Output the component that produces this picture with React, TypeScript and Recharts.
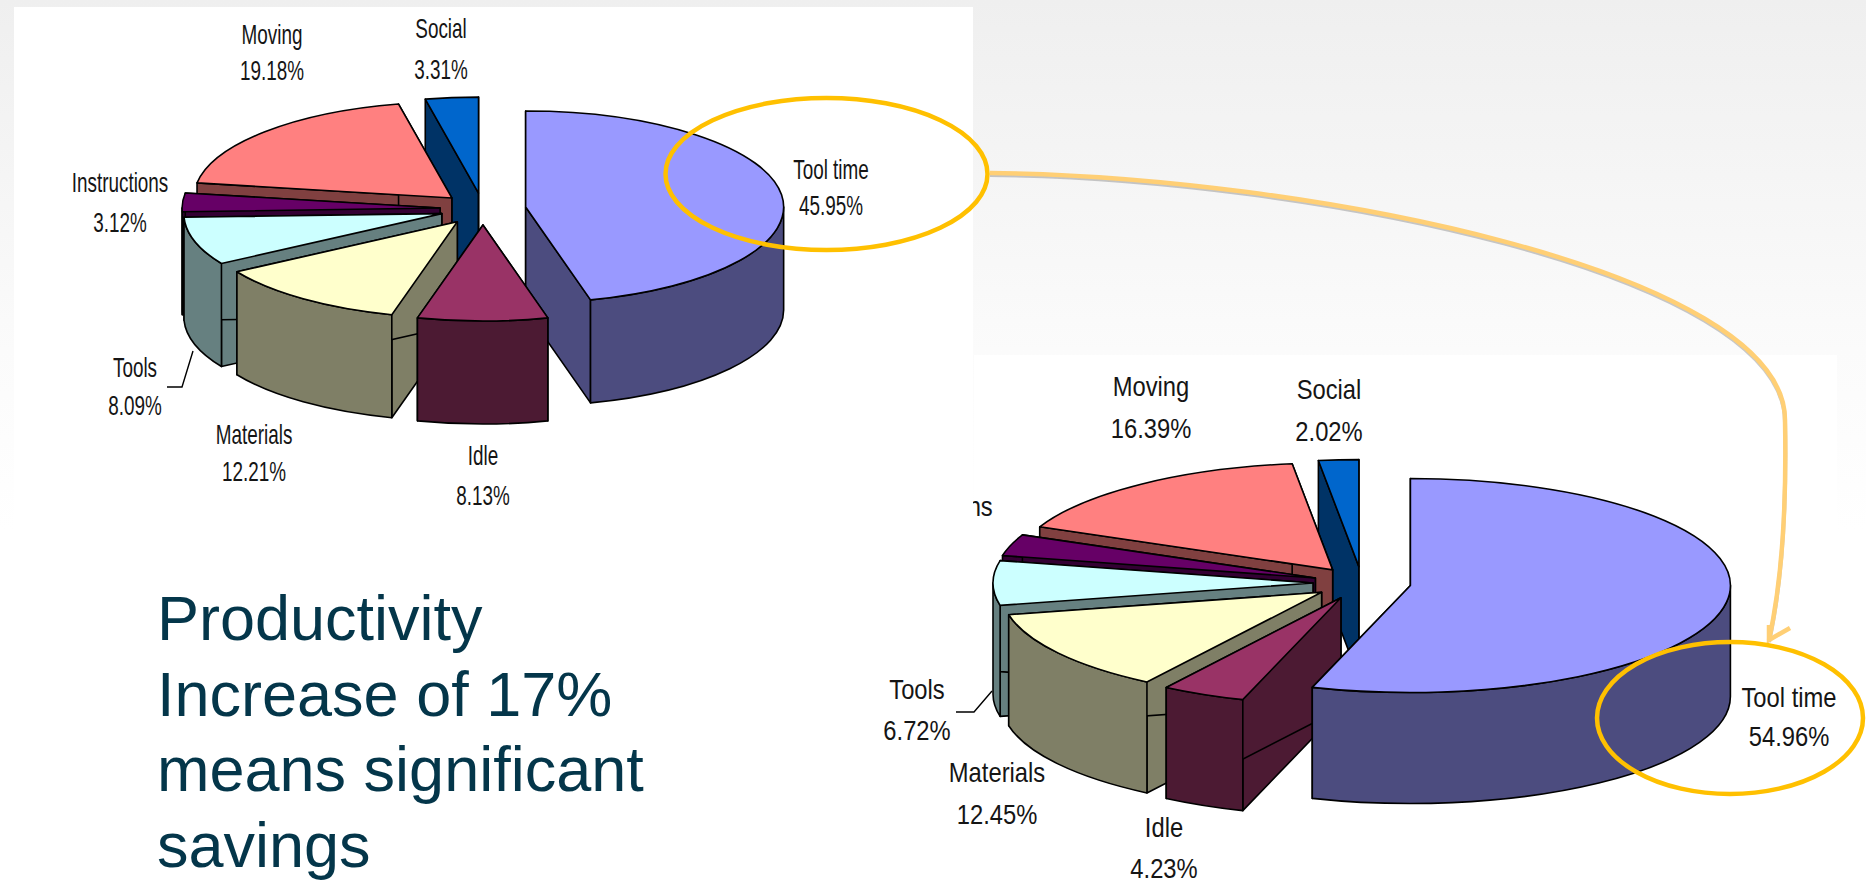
import { Pie, PieChart } from 'recharts'

const categories = ['Tool time', 'Idle', 'Materials', 'Tools', 'Instructions', 'Moving', 'Social']
const beforeValues = [45.95, 8.13, 12.21, 8.09, 3.12, 19.18, 3.31]
const afterValues = [54.96, 4.23, 12.45, 6.72, 3.23, 16.39, 2.02]
const topColors = ['#9999FF', '#993366', '#FFFFCC', '#CCFFFF', '#660066', '#FF8080', '#0066CC']
const sideColors = ['#4C4C7F', '#4C1A33', '#7F7F66', '#668080', '#330033', '#804040', '#003366']
const noteLines = ['Productivity', 'Increase of 17%', 'means significant', 'savings']

// back-to-front drawing order, the slices overlap differently in the two pies
const beforeOrder = ['Social', 'Tool time', 'Moving', 'Instructions', 'Tools', 'Materials', 'Idle']
const afterOrder = ['Social', 'Moving', 'Instructions', 'Tools', 'Materials', 'Idle', 'Tool time']

const beforeLabels: Record<string, number[]> = {
  'Tool time': [831, 179, 215],
  Idle: [483, 465, 505],
  Materials: [254, 444, 481],
  Tools: [135, 377, 415],
  Instructions: [120, 192, 232],
  Moving: [272, 44, 80],
  Social: [441, 38, 79],
}
const afterLabels: Record<string, number[]> = {
  'Tool time': [1789, 707, 746],
  Idle: [1164, 837, 878],
  Materials: [997, 782, 824],
  Tools: [917, 699, 740],
  Instructions: [932, 516, 556],
  Moving: [1151, 396, 438],
  Social: [1329, 399, 441],
}

const W = 1866
const H = 881
const FONT = '"Liberation Sans", Arial, sans-serif'

type Geometry = { cx: number; cy: number; rx: number; ry: number; depth: number; explode: number }

const rad = (deg: number) => (deg * Math.PI) / 180

// one pie slice as an extruded elliptical wedge, pushed out along its bisector
function Wedge({ sector, color, side, geo }: { sector: any; color: string; side: string; geo: Geometry }) {
  const { rx, ry, depth, explode } = geo
  // recharts angles run counter-clockwise from 3 o'clock, these run clockwise from 12
  const a1 = 90 - sector.startAngle
  const a2 = 90 - sector.endAngle
  const mid = (a1 + a2) / 2
  const cx = sector.cx + explode * Math.sin(rad(mid))
  const cy = sector.cy - (explode * Math.cos(rad(mid)) * ry) / rx
  const pt = (a: number, drop = 0) => `${cx + rx * Math.sin(rad(a))} ${cy - ry * Math.cos(rad(a)) + drop}`
  const arc = (to: string, large: number, sweep: number) => `A ${rx} ${ry} 0 ${large} ${sweep} ${to}`

  const radial = (a: number) => `M ${cx} ${cy} L ${pt(a)} L ${pt(a, depth)} L ${cx} ${cy + depth} Z`
  const lo = Math.max(a1, 90)
  const hi = Math.min(a2, 270)
  const rim =
    lo < hi
      ? `M ${pt(lo)} ${arc(pt(hi), 0, 1)} L ${pt(hi, depth)} ${arc(pt(lo, depth), 0, 0)} Z`
      : null
  const top = `M ${cx} ${cy} L ${pt(a1)} ${arc(pt(a2), a2 - a1 > 180 ? 1 : 0, 1)} Z`
  const line = { stroke: '#000', strokeWidth: 1.6, strokeLinejoin: 'round' as const }

  return (
    <g>
      <path d={radial(a1)} fill={side} {...line} />
      <path d={radial(a2)} fill={side} {...line} />
      {rim && <path d={rim} fill={side} {...line} />}
      <path d={top} fill={color} {...line} />
    </g>
  )
}

function SlicedPie({
  values,
  order,
  geo,
  labels,
  squeeze,
}: {
  values: number[]
  order: string[]
  geo: Geometry
  labels: Record<string, number[]>
  squeeze: number
}) {
  const data = categories.map((name, i) => ({ name, value: values[i] }))
  const common = {
    data,
    dataKey: 'value',
    nameKey: 'name',
    cx: geo.cx,
    cy: geo.cy,
    innerRadius: 0,
    outerRadius: geo.rx,
    startAngle: 90,
    endAngle: -270,
    stroke: 'none',
    isAnimationActive: false,
  }

  const renderLabel = (p: any) => {
    const [x, y1, y2] = labels[p.name ?? p.payload?.name]
    return (
      <text
        key={p.name}
        transform={`translate(${x} 0) scale(${squeeze} 1)`}
        textAnchor="middle"
        fontFamily={FONT}
        fontSize={27}
        fill="#151515"
      >
        <tspan x={0} y={y1}>{p.name}</tspan>
        <tspan x={0} y={y2}>{`${p.value.toFixed(2)}%`}</tspan>
      </text>
    )
  }

  return (
    <PieChart width={W} height={H} margin={{ top: 0, right: 0, bottom: 0, left: 0 }}>
      {order.map((name) => (
        <Pie
          key={name}
          {...common}
          shape={(sector: any) => {
            const i = sector.index ?? categories.indexOf(sector.name)
            if (categories[i] !== name) return <g />
            return <Wedge sector={sector} color={topColors[i]} side={sideColors[i]} geo={geo} />
          }}
        />
      ))}
      <Pie {...common} shape={() => <g />} label={renderLabel} labelLine={false} />
    </PieChart>
  )
}

const layer = { position: 'absolute', left: 0, top: 0 } as const

export default function App() {
  const curve = 'M 990 173 C 1300 176 1785 270 1785 420 C 1787 520 1780 590 1769 640'
  return (
    <div
      style={{
        position: 'absolute',
        left: 0,
        top: 0,
        width: W,
        height: H,
        overflow: 'hidden',
        background: 'linear-gradient(#efefef 0px, #fbfbfb 350px, #ffffff 530px)',
      }}
    >
      <div style={{ position: 'absolute', left: 974, top: 355, width: 863, height: 526, background: '#fff' }} />
      <div style={layer}>
        <SlicedPie
          values={afterValues}
          order={afterOrder}
          geo={{ cx: 1362, cy: 583, rx: 320, ry: 107, depth: 111, explode: 49 }}
          labels={afterLabels}
          squeeze={0.88}
        />
      </div>
      <div style={{ position: 'absolute', left: 14, top: 7, width: 959, height: 553, background: '#fff' }} />
      <div style={layer}>
        <SlicedPie
          values={beforeValues}
          order={beforeOrder}
          geo={{ cx: 483, cy: 209, rx: 258, ry: 96, depth: 103, explode: 43 }}
          labels={beforeLabels}
          squeeze={0.7}
        />
      </div>
      <svg width={W} height={H} style={layer}>
        {/* leader lines of the two Tools labels */}
        <polyline points="167,387 182,387 193,351" fill="none" stroke="#000" strokeWidth={1.4} />
        <polyline points="956,712 974,712 992,691" fill="none" stroke="#000" strokeWidth={1.4} />

        <path d={curve} fill="none" stroke="#888" strokeOpacity={0.45} strokeWidth={4} transform="translate(0 2)" />
        <path d={curve} fill="none" stroke="#FFCF75" strokeWidth={4.5} />
        <path d="M 1790 628 L 1769 640 L 1769 625" fill="none" stroke="#FFCF75" strokeWidth={4.5} />

        <ellipse cx={826.5} cy={174} rx={161} ry={76} fill="none" stroke="#FFC000" strokeWidth={4.5} />
        <ellipse cx={1730} cy={718} rx={133} ry={76} fill="none" stroke="#FFC000" strokeWidth={4.5} />

        <text fontFamily={FONT} fontSize={63} fill="#04364A">
          {noteLines.map((line, i) => (
            <tspan key={line} x={157} y={640 + i * 75.6}>{line}</tspan>
          ))}
        </text>
      </svg>
    </div>
  )
}
